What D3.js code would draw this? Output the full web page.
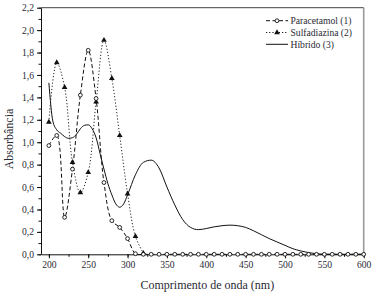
<!DOCTYPE html>
<html>
<head>
<meta charset="utf-8">
<script src="https://cdn.jsdelivr.net/npm/d3@7"></script>
</head>
<body style="margin:0;background:#fff">
<svg id="chart" style="display:block"></svg>
<script>
// UV-Vis spectra — absorbance vs wavelength

// paracetamol and sulfadiazina sampled every 10 nm
const paraWl = d3.range(200, 601, 10);
const paraAbs = [0.97, 1.06, 0.33, 0.76, 1.42, 1.82, 1.39, 0.64, 0.30, 0.24, 0.14, 0.005,
  0, 0, 0, 0, 0, 0, 0, 0, 0, 0, 0, 0, 0, 0, 0, 0, 0, 0, 0, 0, 0, 0, 0, 0, 0, 0, 0, 0, 0];

const sulfWl = [200, 210, 220, 230, 240, 250, 260, 270, 280, 290, 300, 310, 320];
const sulfAbs = [1.18, 1.71, 1.49, 0.82, 0.55, 0.73, 1.36, 1.91, 1.57, 1.06, 0.54, 0.16, 0.01];

// hibrido
const hibWl = [200, 205, 210, 215, 220, 225, 230, 235, 240, 245, 250, 255, 260, 265, 270, 275, 280,
  285, 290, 295, 300, 310, 320, 330, 340, 350, 360, 370, 380, 390, 400, 410, 420, 430, 440, 450,
  460, 470, 480, 490, 500, 510, 520, 530, 540, 550, 560, 570, 580, 590, 600];
const hibAbs = [1.53, 1.19, 1.11, 1.08, 1.05, 1.035, 1.04, 1.07, 1.12, 1.15, 1.155, 1.12, 1.04,
  0.90, 0.76, 0.63, 0.53, 0.45, 0.42, 0.45, 0.53, 0.71, 0.82, 0.84, 0.77, 0.60, 0.44, 0.31, 0.24,
  0.22, 0.23, 0.245, 0.255, 0.26, 0.255, 0.24, 0.21, 0.175, 0.14, 0.11, 0.08, 0.05, 0.03, 0.015,
  0.005, 0, 0, 0, 0, 0, 0];

const xTicks = [200, 250, 300, 350, 400, 450, 500, 550, 600];
const yTicks = [0, 0.2, 0.4, 0.6, 0.8, 1.0, 1.2, 1.4, 1.6, 1.8, 2.0, 2.2];
const legendNames = ["Paracetamol (1)", "Sulfadiazina (2)", "Híbrido (3)"];

const FONT = "'Liberation Serif', 'Times New Roman', serif";
const INK = "#2a2a33";

const W = 375, H = 294;
const M = { top: 7.7, right: 11.3, bottom: 39.7, left: 41 };
const innerW = W - M.left - M.right;
const innerH = H - M.top - M.bottom;

const svg = d3.select("#chart").attr("width", W).attr("height", H);
const g = svg.append("g").attr("transform", `translate(${M.left},${M.top})`);

const x = d3.scaleLinear().domain([190, 600]).range([0, innerW]);
const y = d3.scaleLinear().domain([0, 2.2]).range([innerH, 0]);

const fmt = d => d3.format(".1f")(d).replace(".", ",");

// style an axis group: serif labels, dark ticks
function styleAxis(a) {
  a.selectAll("line").attr("stroke", "#111");
  a.selectAll(".domain").attr("stroke", "#111");
  a.selectAll("text").style("font-family", FONT).style("font-size", "9.6px").attr("fill", INK);
}

// ---- frame (top + right) ----
g.append("line").attr("x1", 0).attr("x2", innerW).attr("y1", 0).attr("y2", 0)
  .attr("stroke", "#444").attr("stroke-width", 1);
g.append("line").attr("x1", innerW).attr("x2", innerW).attr("y1", 0).attr("y2", innerH)
  .attr("stroke", "#999").attr("stroke-width", 1.6);

// ---- axes: minor ticks first, then majors ----
g.append("g")
  .attr("transform", `translate(0,${innerH})`)
  .call(d3.axisBottom(x).tickValues(d3.range(200, 601, 25)).tickSize(2.5).tickFormat(""))
  .call(a => a.select(".domain").remove())
  .call(styleAxis);
g.append("g")
  .call(d3.axisLeft(y).tickValues(d3.range(0, 2.21, 0.1)).tickSize(2.5).tickFormat(""))
  .call(a => a.select(".domain").remove())
  .call(styleAxis);

g.append("g")
  .attr("transform", `translate(0,${innerH})`)
  .call(d3.axisBottom(x).tickValues(xTicks).tickSize(4).tickSizeOuter(0).tickPadding(3).tickFormat(d3.format("d")))
  .call(styleAxis);
g.append("g")
  .call(d3.axisLeft(y).tickValues(yTicks).tickSize(4).tickSizeOuter(0).tickPadding(3).tickFormat(fmt))
  .call(styleAxis);

// ---- axis titles ----
svg.append("text")
  .attr("x", M.left + innerW / 2 + 5).attr("y", H - 5.5)
  .attr("text-anchor", "middle").attr("fill", INK)
  .style("font-family", FONT).style("font-size", "12px")
  .text("Comprimento de onda (nm)");
svg.append("text")
  .attr("transform", `translate(13,${M.top + innerH / 2 + 8}) rotate(-90)`)
  .attr("text-anchor", "middle").attr("fill", INK)
  .style("font-family", FONT).style("font-size", "12px")
  .text("Absorbância");

// ---- lines ----
const curve = d3.curveCatmullRom.alpha(0.5);
const mk = (xs, ys) => xs.map((w, i) => ({ w, a: ys[i] }));
const para = mk(paraWl, paraAbs);
const sulf = mk(sulfWl, sulfAbs);
const hib = mk(hibWl, hibAbs);
const line = d3.line().x(d => x(d.w)).y(d => y(Math.max(0, d.a))).curve(curve);

g.append("path").datum(hib)
  .attr("fill", "none").attr("stroke", "#111").attr("stroke-width", 1)
  .attr("d", d3.line().x(d => x(d.w)).y(d => y(d.a)).curve(d3.curveMonotoneX));

g.append("path").datum(sulf)
  .attr("fill", "none").attr("stroke", "#222").attr("stroke-width", 1)
  .attr("stroke-dasharray", "1.2 2")
  .attr("d", line);

g.append("path").datum(para)
  .attr("fill", "none").attr("stroke", "#111").attr("stroke-width", 1)
  .attr("stroke-dasharray", "4 2.5")
  .attr("d", line);

// ---- markers ----
const tri = d3.symbol().type(d3.symbolTriangle).size(14);
g.selectAll(".tri").data(sulf).join("path")
  .attr("transform", d => `translate(${x(d.w)},${y(d.a)})`)
  .attr("d", tri).attr("fill", "#111");

g.selectAll(".circ").data(para).join("circle")
  .attr("cx", d => x(d.w)).attr("cy", d => y(d.a)).attr("r", 1.9)
  .attr("fill", "#fff").attr("stroke", "#111").attr("stroke-width", 0.9);

// ---- legend ----
const lg = svg.append("g").attr("transform", "translate(266,20.7)");
const styles = [
  { dash: "4 2.5", mark: "circle" },
  { dash: "1.2 2", mark: "tri" },
  { dash: null, mark: null }
];
legendNames.forEach((name, i) => {
  const row = lg.append("g").attr("transform", `translate(0,${i * 11.8})`);
  row.append("line").attr("x1", 0).attr("x2", 22).attr("y1", 0).attr("y2", 0)
    .attr("stroke", "#111").attr("stroke-width", 1)
    .attr("stroke-dasharray", styles[i].dash);
  if (styles[i].mark === "circle") {
    row.append("circle").attr("cx", 11).attr("cy", 0).attr("r", 1.9)
      .attr("fill", "#fff").attr("stroke", "#111").attr("stroke-width", 0.9);
  } else if (styles[i].mark === "tri") {
    row.append("path").attr("transform", "translate(11,0)").attr("d", tri).attr("fill", "#111");
  }
  row.append("text").attr("x", 24.5).attr("y", 3.3)
    .attr("fill", INK)
    .style("font-family", FONT).style("font-size", "9.6px")
    .text(name);
});
</script>
</body>
</html>
